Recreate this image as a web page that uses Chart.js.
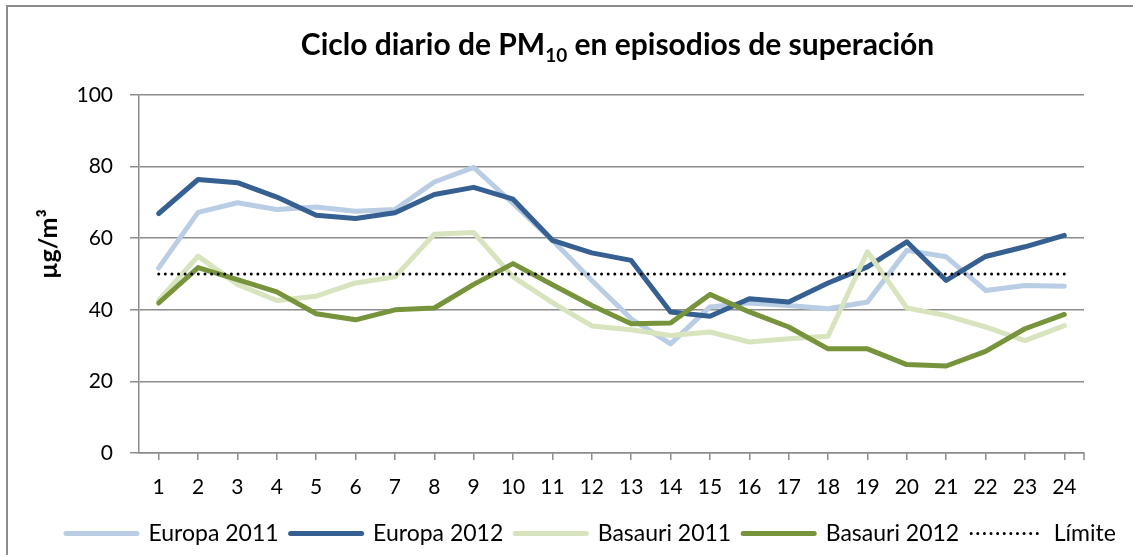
<!DOCTYPE html>
<html>
<head>
<meta charset="utf-8">
<script src="https://cdn.jsdelivr.net/npm/chart.js@4"></script>
<style>
  html, body { margin: 0; padding: 0; background: #fff; }
  #wrap { position: relative; width: 1133px; height: 555px; overflow: hidden; }
  #frame { position: absolute; left: 6px; top: 5px; width: 1200px; height: 600px;
           border-top: 2px solid #8c8c8c; border-left: 2px solid #8c8c8c; }
  #title { position: absolute; left: 0; width: 1235px; top: 25px; text-align: center;
           font-family: Lato, sans-serif; font-weight: bold; font-size: 30px; color: #000; }
  #title sub { font-size: 19px; vertical-align: -7px; line-height: 0; }
  #ytitle { position: absolute; left: 47px; top: 244px; transform: translate(-50%, -50%) rotate(-90deg);
            font-family: Lato, sans-serif; font-weight: bold; font-size: 25px; white-space: nowrap; }
  canvas { position: absolute; left: 0; top: 0; }
</style>
</head>
<body>
<div id="wrap">
  <div id="frame"></div>
  <canvas id="pmChart" width="1133" height="555"></canvas>
  <div id="title">Ciclo diario de PM<sub>10</sub> en episodios de superación</div>
  <div id="ytitle">µg/m³</div>
</div>
<script>
// hours of the day
const hours = ['1', '2', '3', '4', '5', '6', '7', '8', '9', '10', '11', '12',
               '13', '14', '15', '16', '17', '18', '19', '20', '21', '22', '23', '24'];

// PM10 in µg/m3
const europa2011 = [51.7, 67.2, 69.9, 68.0, 68.7, 67.5, 68.0, 75.7, 79.8, 69.7, 59.4, 48.2,
                    37.5, 30.5, 40.8, 41.9, 41.2, 40.3, 42.2, 56.6, 54.8, 45.4, 46.8, 46.6];
const europa2012 = [66.9, 76.4, 75.5, 71.5, 66.4, 65.5, 67.1, 72.2, 74.2, 70.9, 59.4, 55.9,
                    53.8, 39.4, 38.2, 43.1, 42.2, 47.5, 52.0, 59.0, 48.2, 54.9, 57.6, 60.8];
const basauri2011 = [42.6, 55.0, 47.1, 42.6, 43.8, 47.5, 49.2, 61.1, 61.6, 49.2, 42.0, 35.5,
                     34.4, 32.8, 33.8, 31.0, 31.9, 32.6, 56.2, 40.5, 38.4, 35.2, 31.4, 35.6];
const basauri2012 = [41.9, 51.8, 48.4, 45.0, 38.9, 37.2, 40.0, 40.5, 47.1, 52.9, 47.0, 41.2,
                     36.1, 36.3, 44.3, 39.4, 35.2, 29.1, 29.1, 24.7, 24.3, 28.4, 34.7, 38.7];
const limite = [50, 50, 50, 50, 50, 50, 50, 50, 50, 50, 50, 50,
                50, 50, 50, 50, 50, 50, 50, 50, 50, 50, 50, 50];

const yTicks = [0, 20, 40, 60, 80, 100];

Chart.defaults.font.family = 'Lato, sans-serif';
Chart.defaults.color = '#000';

function lineSet(label, data, color, order) {
    return {
        label: label,
        data: data,
        borderColor: color,
        backgroundColor: color,
        borderWidth: 5,
        borderJoinStyle: 'round',
        borderCapStyle: 'round',
        pointRadius: 0,
        tension: 0,
        order: order
    };
}

// legend entries drawn as line samples, with the dataset's dash pattern
function legendLabels(chart) {
    return chart.data.datasets.map((ds, i) => ({
        text: ds.label,
        datasetIndex: i,
        fillStyle: ds.borderColor,
        strokeStyle: ds.borderColor,
        lineWidth: ds.borderWidth,
        lineDash: ds.borderDash || [],
        lineCap: ds.borderCapStyle,
        pointStyle: 'line',
        fontColor: '#000',
        hidden: false
    }));
}

// Excel also puts a tick mark at the right end of the category axis
const endTick = {
    id: 'endTick',
    afterDraw(chart) {
        const c = chart.ctx;
        const area = chart.chartArea;
        c.save();
        c.strokeStyle = '#8c8c8c';
        c.lineWidth = 1.5;
        c.beginPath();
        c.moveTo(area.right, area.bottom);
        c.lineTo(area.right, area.bottom + 7);
        c.stroke();
        c.restore();
    }
};

const ctx = document.getElementById('pmChart').getContext('2d');
const pmChart = new Chart(ctx, {
    type: 'line',
    data: {
        labels: hours,
        datasets: [
            lineSet('Europa 2011', europa2011, '#B9CDE5', 5),
            lineSet('Europa 2012', europa2012, '#376092', 4),
            lineSet('Basauri 2011', basauri2011, '#D7E4BD', 3),
            lineSet('Basauri 2012', basauri2012, '#77933C', 2),
            {
                label: 'Límite',
                data: limite,
                borderColor: '#000',
                backgroundColor: '#000',
                borderWidth: 3,
                borderDash: [0.01, 6.6],
                borderCapStyle: 'round',
                pointRadius: 0,
                order: 1
            }
        ]
    },
    options: {
        responsive: false,
        animation: false,
        layout: { padding: { top: 95, right: 0, bottom: 0, left: 54 } },
        plugins: {
            title: { display: false },
            tooltip: { enabled: false },
            legend: {
                position: 'bottom',
                align: 'start',
                labels: {
                    usePointStyle: true,
                    pointStyleWidth: 71,
                    boxHeight: 22,
                    padding: 12,
                    font: { size: 23 },
                    generateLabels: legendLabels
                }
            }
        },
        scales: {
            x: {
                offset: true,
                grid: { offset: false, drawOnChartArea: false, drawTicks: true, tickLength: 7, color: '#8c8c8c', lineWidth: 1.5 },
                border: { color: '#8c8c8c', width: 1.5 },
                ticks: { font: { size: 21 }, padding: 15, maxRotation: 0, autoSkip: false },
                afterFit: scale => { scale.height = 57; }
            },
            y: {
                min: 0,
                max: 100,
                afterBuildTicks: scale => { scale.ticks = yTicks.map(v => ({ value: v })); },
                grid: { color: '#8c8c8c', lineWidth: 1.5, tickLength: 9 },
                border: { color: '#8c8c8c', width: 1.5 },
                ticks: { font: { size: 21 }, padding: 17 },
                afterFit: scale => { scale.width = 85; }
            },
            // empty right-hand space so the plot ends where the reference's does
            spacer: {
                type: 'linear',
                position: 'right',
                min: 0,
                max: 100,
                grid: { display: false },
                border: { display: false },
                ticks: { display: false },
                afterFit: scale => { scale.width = 49; }
            }
        }
    },
    plugins: [endTick]
});
</script>
</body>
</html>
